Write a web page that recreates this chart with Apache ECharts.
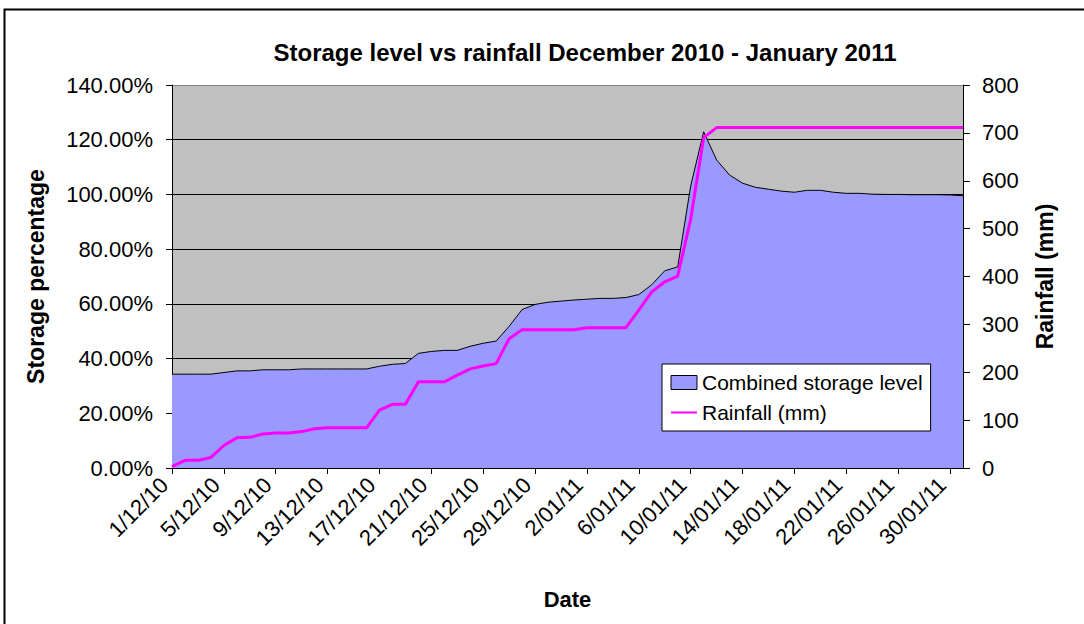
<!DOCTYPE html>
<html>
<head>
<meta charset="utf-8">
<script src="https://cdn.jsdelivr.net/npm/echarts@6/dist/echarts.min.js"></script>
<style>
  html, body { margin: 0; padding: 0; background: #ffffff; }
  #chart { width: 1084px; height: 624px; }
</style>
</head>
<body>
<div id="chart"></div>
<script>
const dates = [
  '1/12/10','2/12/10','3/12/10','4/12/10','5/12/10','6/12/10','7/12/10','8/12/10','9/12/10','10/12/10',
  '11/12/10','12/12/10','13/12/10','14/12/10','15/12/10','16/12/10','17/12/10','18/12/10','19/12/10','20/12/10',
  '21/12/10','22/12/10','23/12/10','24/12/10','25/12/10','26/12/10','27/12/10','28/12/10','29/12/10','30/12/10',
  '31/12/10','1/01/11','2/01/11','3/01/11','4/01/11','5/01/11','6/01/11','7/01/11','8/01/11','9/01/11',
  '10/01/11','11/01/11','12/01/11','13/01/11','14/01/11','15/01/11','16/01/11','17/01/11','18/01/11','19/01/11',
  '20/01/11','21/01/11','22/01/11','23/01/11','24/01/11','25/01/11','26/01/11','27/01/11','28/01/11','29/01/11',
  '30/01/11','31/01/11'
];

// Combined storage level (%)
const storage = [
  34.3, 34.3, 34.3, 34.3, 34.9, 35.5, 35.5, 35.9, 35.9, 35.9,
  36.2, 36.2, 36.2, 36.2, 36.2, 36.2, 37.2, 37.9, 38.2, 41.9,
  42.6, 43.0, 43.0, 44.5, 45.6, 46.4, 51.8, 57.9, 59.8, 60.6,
  61.0, 61.4, 61.7, 62.0, 62.0, 62.3, 63.4, 67.0, 72.1, 73.5,
  103.1, 122.9, 112.6, 107.1, 104.1, 102.6, 101.9, 101.2, 100.8, 101.5,
  101.5, 100.8, 100.4, 100.4, 100.1, 100.0, 100.0, 99.9, 99.9, 99.9,
  99.8, 99.5
];

// Cumulative rainfall (mm)
const rainfall = [
  3, 16, 16, 22, 47, 63, 64, 71, 73, 73,
  76, 82, 84, 84, 84, 84, 121, 133, 133, 180,
  180, 180, 194, 207, 213, 218, 270, 289, 289, 289,
  289, 289, 293, 293, 293, 293, 330, 368, 389, 401,
  520, 690, 711, 711, 711, 711, 711, 711, 711, 711,
  711, 711, 711, 711, 711, 711, 711, 711, 711, 711,
  711, 711
];

const titleText = 'Storage level vs rainfall December 2010 - January 2011';
const storageName = 'Combined storage level';
const rainName = 'Rainfall (mm)';
const leftAxisName = 'Storage percentage';
const rightAxisName = 'Rainfall (mm)';
const xAxisName = 'Date';

const FONT = '"Liberation Sans", Arial, sans-serif';

const chart = echarts.init(document.getElementById('chart'), null, { renderer: 'svg' });

chart.setOption({
  backgroundColor: '#ffffff',
  animation: false,
  textStyle: { fontFamily: FONT, color: '#000' },
  graphic: [
    {
      type: 'rect',
      shape: { x: 4.5, y: 9.5, width: 1200, height: 1000 },
      style: { fill: 'none', stroke: '#000', lineWidth: 2 },
      silent: true,
      z: -10
    },
    {
      type: 'text',
      x: 585, y: 52,
      style: {
        text: titleText,
        fontFamily: FONT, fontWeight: 'bold', fontSize: 24,
        fill: '#000', align: 'center', verticalAlign: 'middle'
      }
    }
  ],
  grid: {
    left: 172, right: 121, top: 85, bottom: 156,
    show: true, backgroundColor: '#C0C0C0', borderWidth: 0
  },
  legend: {
    orient: 'vertical',
    left: 662, top: 364,
    padding: [8, 8, 8, 8],
    itemWidth: 26, itemHeight: 14, itemGap: 9,
    backgroundColor: '#ffffff',
    borderColor: '#000', borderWidth: 1,
    textStyle: { fontFamily: FONT, fontSize: 21, color: '#000' },
    data: [
      { name: storageName, icon: 'rect', itemStyle: { color: '#9999FF', borderColor: '#000', borderWidth: 1 } },
      { name: rainName, itemStyle: { opacity: 0 } }
    ]
  },
  xAxis: {
    type: 'category',
    data: dates,
    boundaryGap: false,
    name: xAxisName,
    nameLocation: 'middle',
    nameGap: 120,
    nameTextStyle: { fontFamily: FONT, fontSize: 22, fontWeight: 'bold', color: '#000' },
    axisLine: { show: true, lineStyle: { color: '#000', width: 1 } },
    axisTick: { show: true, interval: 3, length: 6, lineStyle: { color: '#000' } },
    axisLabel: {
      interval: 3, rotate: 45, margin: 21, verticalAlign: 'bottom',
      fontFamily: FONT, fontSize: 22, color: '#000'
    },
    splitLine: { show: false }
  },
  yAxis: [
    {
      type: 'value',
      min: 0, max: 140, interval: 20,
      position: 'left',
      name: leftAxisName,
      nameLocation: 'middle',
      nameGap: 125,
      nameTextStyle: { fontFamily: FONT, fontSize: 23, fontWeight: 'bold', color: '#000' },
      axisLine: { show: true, lineStyle: { color: '#000', width: 1 } },
      axisTick: { show: true, length: 6, lineStyle: { color: '#000' } },
      axisLabel: {
        margin: 19, fontFamily: FONT, fontSize: 22, color: '#000',
        formatter: v => v.toFixed(2) + '%'
      },
      splitLine: {
        show: true,
        lineStyle: { color: ['#000', '#000', '#000', '#000', '#000', '#000', '#000', '#808080'], width: 1 }
      }
    },
    {
      type: 'value',
      min: 0, max: 800, interval: 100,
      position: 'right',
      name: rightAxisName,
      nameLocation: 'middle',
      nameGap: 70,
      nameTextStyle: { fontFamily: FONT, fontSize: 23, fontWeight: 'bold', color: '#000' },
      axisLine: { show: true, lineStyle: { color: '#000', width: 1 } },
      axisTick: { show: true, length: 7, lineStyle: { color: '#000' } },
      axisLabel: { margin: 19, fontFamily: FONT, fontSize: 22, color: '#000' },
      splitLine: { show: false }
    }
  ],
  series: [
    {
      name: storageName,
      type: 'line',
      yAxisIndex: 0,
      data: storage,
      symbol: 'none',
      lineStyle: { color: '#000', width: 1 },
      itemStyle: { color: '#9999FF' },
      areaStyle: { color: '#9999FF', opacity: 1 },
      z: 2
    },
    {
      name: rainName,
      type: 'line',
      yAxisIndex: 1,
      data: rainfall,
      symbol: 'none',
      lineStyle: { color: '#FF00FF', width: 3 },
      itemStyle: { color: '#FF00FF' },
      z: 3
    }
  ]
});
</script>
</body>
</html>
